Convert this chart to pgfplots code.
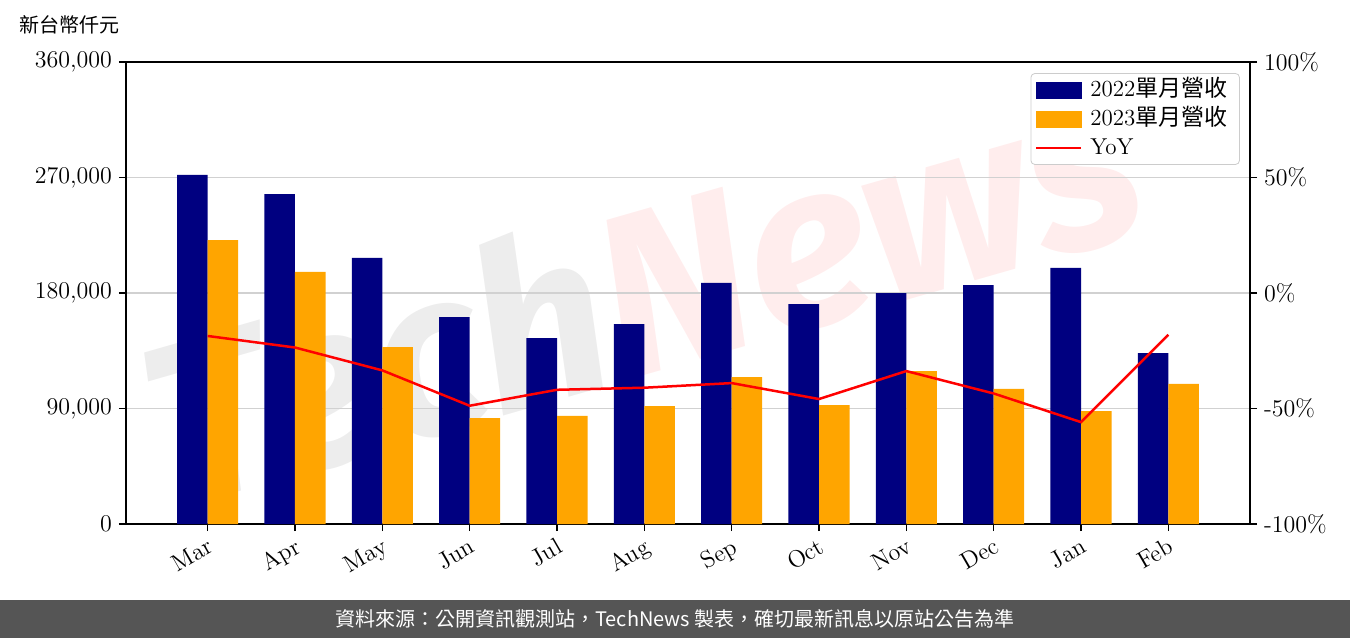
\documentclass[border=0pt]{standalone}
\usepackage{fontspec}
\usepackage{pgfplots}
\pgfplotsset{compat=1.18}
\newfontfamily\cjk{Noto Sans CJK TC}
\newfontfamily\wm{Fira Sans}
\definecolor{navy}{HTML}{000080}
\definecolor{orng}{HTML}{FFA500}
\definecolor{footer}{HTML}{555555}
\begin{document}
\begin{tikzpicture}[x=1pt,y=1pt]
% footer band
\fill[footer] (-63,-57) rectangle (612,-38);
\node[white,font=\cjk\fontsize{10}{12}\selectfont] at (274.5,-47.5) {資料來源：公開資訊觀測站，TechNews 製表，確切最新訊息以原站公告為準};
% watermark
\node[rotate=16, font=\wm\bfseries\itshape\fontsize{115}{115}\selectfont, opacity=0.07] at (257,118) {\textcolor{black}{Tech}\textcolor{red}{News}};
% unit label
\node[font=\cjk\fontsize{10}{12}\selectfont] at (-28,249.5) {新台幣仟元};
\begin{axis}[
  at={(0pt,0pt)}, anchor=south west,
  scale only axis, width=562pt, height=231pt,
  xmin=-0.935, xmax=11.935, ymin=0, ymax=360000,
  ytick={0,90000,180000,270000,360000},
  scaled y ticks=false,
  yticklabels={0,{90,000},{180,000},{270,000},{360,000}},
  xtick={0,...,11},
  xticklabels={Mar,Apr,May,Jun,Jul,Aug,Sep,Oct,Nov,Dec,Jan,Feb},
  x tick label style={rotate=30, anchor=north east, inner sep=2pt},
  tick label style={font=\fontsize{12}{14}\selectfont},
  ymajorgrids, grid style={black!18, line width=0.6pt},
  tick align=outside, xtick pos=bottom, ytick pos=left,
  major tick length=3.5pt,
  axis line style={line width=0.8pt}, tick style={line width=0.6pt, black},
  ybar, bar width=0.35,
  legend style={at={(0.991,0.976)}, anchor=north east, draw=black!20, rounded corners=2pt,
    font=\fontsize{11.5}{13}\selectfont, row sep=1pt, inner xsep=2pt, inner ysep=1.5pt,
    nodes={inner xsep=4pt, inner ysep=1.5pt, text height=8.7pt, text depth=1.8pt}},
  legend cell align=left,
]
\addplot[fill=navy, draw=none, bar shift=-0.175, forget plot] coordinates {
(0,272000) (1,257100) (2,207300) (3,161300) (4,144900) (5,155800)
(6,187800) (7,171400) (8,180000) (9,186200) (10,199500) (11,133200)};
\addplot[fill=orng, draw=none, bar shift=0.175, forget plot] coordinates {
(0,221300) (1,196400) (2,137900) (3,82600) (4,84200) (5,91900)
(6,114500) (7,92700) (8,119200) (9,105200) (10,88000) (11,109100)};
\addlegendimage{legend image code/.code={\fill[navy, sharp corners] (0pt,-4pt) rectangle (22.5pt,4pt);}}
\addlegendentry{2022{\cjk 單月營收}}
\addlegendimage{legend image code/.code={\fill[orng, sharp corners] (0pt,-4pt) rectangle (22.5pt,4pt);}}
\addlegendentry{2023{\cjk 單月營收}}
\addlegendimage{legend image code/.code={\draw[red, sharp corners, line width=1.25pt] (0pt,0pt) -- (22.5pt,0pt);}}
\addlegendentry{YoY}
\end{axis}
\begin{axis}[
  at={(0pt,0pt)}, anchor=south west,
  scale only axis, width=562pt, height=231pt,
  xmin=-0.935, xmax=11.935, ymin=-100, ymax=100,
  axis x line=none, axis y line*=right,
  ytick={-100,-50,0,50,100},
  yticklabels={-100\%,-50\%,0\%,50\%,100\%},
  tick label style={font=\fontsize{12}{14}\selectfont},
  tick align=outside, major tick length=3.5pt,
  axis line style={line width=0.8pt}, tick style={line width=0.6pt, black},
]
\addplot[red, line width=1.25pt, no marks] coordinates {
(0,-18.6) (1,-23.6) (2,-33.5) (3,-48.8) (4,-41.9) (5,-41.0)
(6,-39.0) (7,-45.9) (8,-33.8) (9,-43.5) (10,-55.9) (11,-18.1)};
\end{axis}
\pgfresetboundingbox
\path[use as bounding box] (-63,-57) rectangle (612,262);
\end{tikzpicture}
\end{document}
